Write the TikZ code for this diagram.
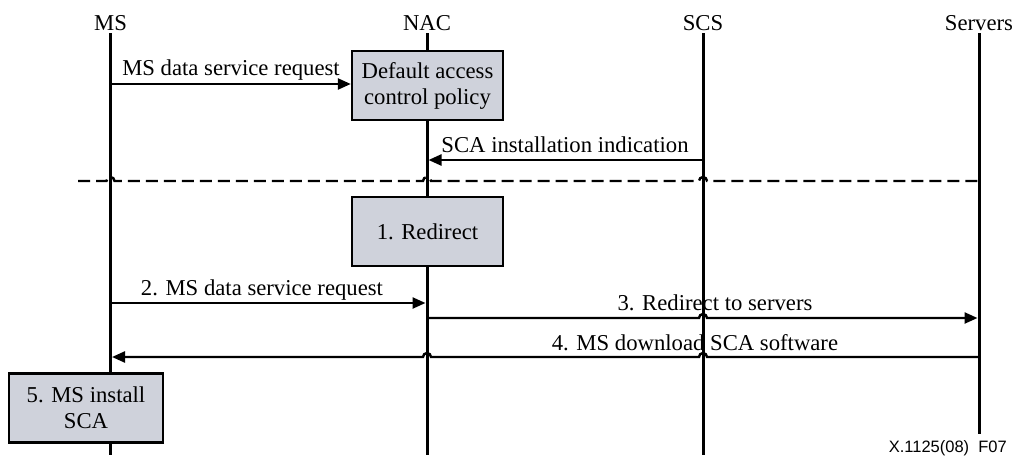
\documentclass[tikz,border=0pt]{standalone}
\usepackage{fontspec}
\setmainfont{Liberation Serif}
\newfontfamily\figsans{Liberation Sans}
\usetikzlibrary{arrows.meta}
\definecolor{boxfill}{RGB}{207,210,219}
\begin{document}
\begin{tikzpicture}[x=1pt,y=-1pt,
  every node/.style={font=\fontsize{22.7pt}{26pt}\selectfont},
  head/.style={anchor=base, inner sep=0pt},
  life/.style={line width=3pt},
  msg/.style={line width=2.4pt, -{Triangle[length=13pt,width=11pt]}},
  lbl/.style={anchor=base, inner sep=0pt},
  procbox/.style={draw, line width=2.4pt, fill=boxfill, minimum width=151pt,
    minimum height=69pt, align=center, inner sep=0pt},
  divider/.style={line width=2.4pt, dash pattern=on 12pt off 6pt},
]
\useasboundingbox (0,0) rectangle (1014,455);

% entity heads
\node[head] (msh)  at (110.5,30) {MS};
\node[head] (nach) at (427,30)   {NAC};
\node[head] (scsh) at (703,30)   {SCS};
\node[head] (srvh) at (979,30)   {Servers};

% lifeline end points
\coordinate (ms)  at (110.5,33);  \coordinate (ms-end)  at (110.5,455);
\coordinate (nac) at (427,33);    \coordinate (nac-end) at (427,455);
\coordinate (scs) at (703,33);    \coordinate (scs-end) at (703,455);
\coordinate (srv) at (979,33);    \coordinate (srv-end) at (979,434);

\draw[life] (ms)  -- (ms-end);
\draw[life] (nac) -- (nac-end);
\draw[life] (scs) -- (scs-end);
\draw[life] (srv) -- (srv-end);

% processing boxes
\node[procbox] (policy)   at (427.5,85.5) {Default access\\control policy};
\node[procbox] (redirect) at (427.5,231.5) {1. Redirect};
\node[procbox, minimum width=154pt] (install) at (86,408) {5. MS install\\SCA};

% message levels
\coordinate (m1)  at (0,84);
\coordinate (m2)  at (0,160);
\coordinate (div) at (0,181);
\coordinate (m3)  at (0,303);
\coordinate (m4)  at (0,318);
\coordinate (m5)  at (0,357);
\coordinate (div-start) at (78,181);

% phase divider, hopping over the lifelines
\draw[divider] (div-start)
  -- ([xshift=-4pt]ms |- div)  arc[start angle=180,end angle=0,radius=4pt]
  -- ([xshift=-4pt]nac |- div) arc[start angle=180,end angle=0,radius=4pt]
  -- ([xshift=-4pt]scs |- div) arc[start angle=180,end angle=0,radius=4pt]
  -- (srv |- div);

% messages
\draw[msg] (ms |- m1) -- (policy.west |- m1);
\draw[msg, shorten >=1.5pt] (scs |- m2) -- (nac |- m2);
\draw[msg, shorten >=1.5pt] (ms |- m3) -- (nac |- m3);
\draw[msg, shorten >=1.5pt] (nac |- m4)
  -- ([xshift=-4pt]scs |- m4) arc[start angle=180,end angle=0,radius=4pt]
  -- (srv |- m4);
\draw[msg, shorten >=1.5pt] (srv |- m5)
  -- ([xshift=4pt]scs |- m5) arc[start angle=0,end angle=180,radius=4pt]
  -- ([xshift=4pt]nac |- m5) arc[start angle=0,end angle=180,radius=4pt]
  -- (ms |- m5);

% message labels
\node[lbl] (l1) at (231,75)  {MS data service request};
\node[lbl] (l2) at (565,152) {SCA installation indication};
\node[lbl] (l3) at (262,295) {2. MS data service request};
\node[lbl] (l4) at (715,310) {3. Redirect to servers};
\node[lbl] (l5) at (695,350) {4. MS download SCA software};

% figure identifier
\node[anchor=base east, inner sep=0pt, font=\figsans\fontsize{16.5pt}{18pt}\selectfont]
  (figid) at (1007,452) {X.1125(08)\ \ F07};
\end{tikzpicture}
\end{document}
